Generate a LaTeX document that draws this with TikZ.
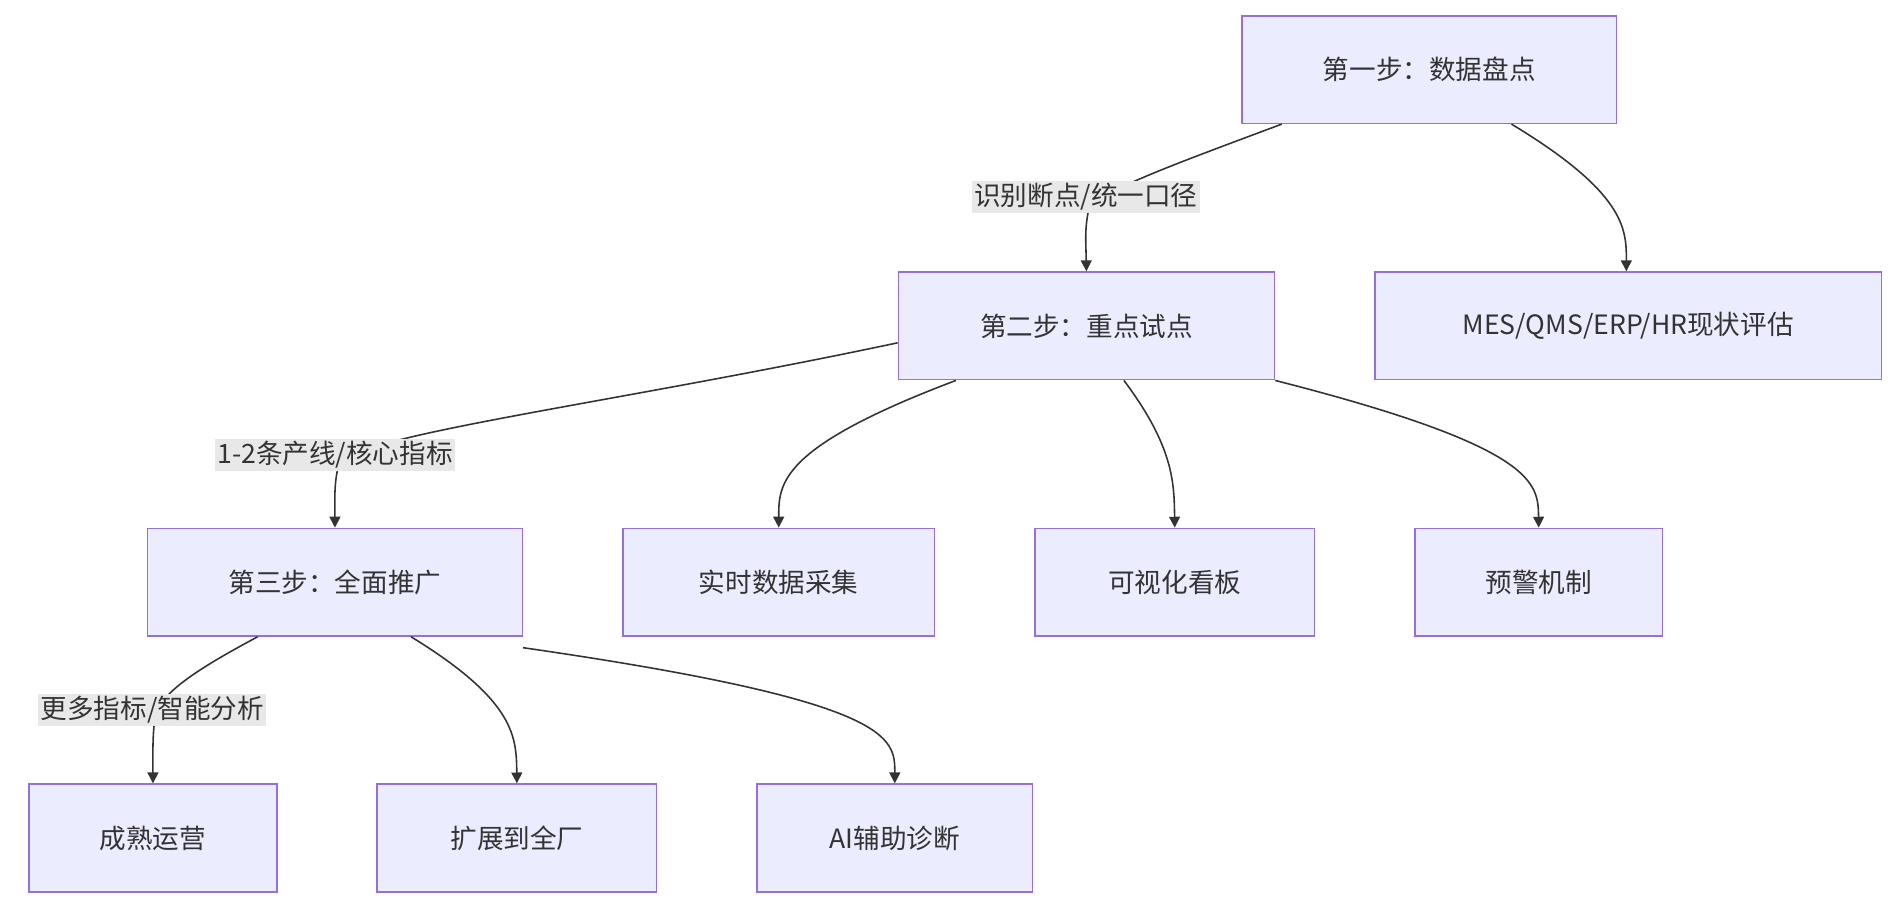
\documentclass[tikz,border=0pt]{standalone}
\usepackage{fontspec}
\setmainfont{Noto Sans CJK SC}
\usetikzlibrary{arrows.meta}
\begin{document}
\begin{tikzpicture}[x=1pt,y=-1pt,
 box/.style={draw=purple!50!blue!60!white,draw={rgb,255:red,147;green,112;blue,219},fill={rgb,255:red,236;green,236;blue,255},line width=1.3pt,minimum height=89pt,inner sep=0pt,font=\fontsize{22}{26}\selectfont,text={rgb,255:red,51;green,51;blue,51}},
 lbl/.style={fill={rgb,255:red,232;green,232;blue,232},inner sep=2pt,font=\fontsize{22}{26}\selectfont,text={rgb,255:red,51;green,51;blue,51}},
 e/.style={draw={rgb,255:red,51;green,51;blue,51},line width=1.3pt},
 a/.style={e,-{Triangle[length=9pt,width=9pt]}}]
\useasboundingbox (0,0) rectangle (1568,751);
\node[box,minimum width=310pt] (s1) at (1182,57.5) {第一步：数据盘点};
\node[box,minimum width=311pt] (s2) at (898.5,269.5) {第二步：重点试点};
\node[box,minimum width=419pt] (mes) at (1346.5,269.5) {MES/QMS/ERP/HR现状评估};
\node[box,minimum width=310pt] (s3) at (277,481.5) {第三步：全面推广};
\node[box,minimum width=258pt] (rt) at (644,481.5) {实时数据采集};
\node[box,minimum width=231pt] (vis) at (971.5,481.5) {可视化看板};
\node[box,minimum width=205pt] (warn) at (1272.5,481.5) {预警机制};
\node[box,minimum width=205pt] (m1) at (126.5,693) {成熟运营};
\node[box,minimum width=231pt] (m2) at (427.5,693) {扩展到全厂};
\node[box,minimum width=228pt] (m3) at (740,693) {AI辅助诊断};
% edges
\draw[e] ([xshift=-122pt]s1.south) .. controls (960,140) and (905,160) .. (900,175) coordinate (l1);
\draw[a] (l1) .. controls (897,190) and (898,200) .. (s2.north);
\node[lbl] (L1) at (898,163) {识别断点/统一口径};
\draw[a] ([xshift=68pt]s1.south) .. controls (1345,160) and (1345,190) .. ([xshift=-1.5pt]mes.north);
\draw[e] ([yshift=-14pt]s2.west) .. controls (500,335) and (290,360) .. (280,385) coordinate (l2);
\draw[a] (l2) .. controls (276,400) and (277,415) .. (s3.north);
\node[lbl] (L2) at (277,376) {1-2条产线/核心指标};
\draw[a] ([xshift=-108pt]s2.south) .. controls (644,370) and (644,400) .. (rt.north);
\draw[a] ([xshift=31pt]s2.south) .. controls (971,370) and (971,400) .. (vis.north);
\draw[a] (s2.south east) .. controls (1272,370) and (1272,400) .. (warn.north);
\draw[e] ([xshift=-64pt]s3.south) .. controls (160,555) and (130,575) .. (128,595) coordinate (l3);
\draw[a] (l3) .. controls (126,610) and (126.5,625) .. (m1.north);
\node[lbl] (L3) at (126,587) {更多指标/智能分析};
\draw[a] ([xshift=63pt]s3.south) .. controls (427,580) and (427,610) .. (m2.north);
\draw[a] ([yshift=-9pt]s3.south east) .. controls (740,580) and (740,610) .. (m3.north);
\end{tikzpicture}
\end{document}
